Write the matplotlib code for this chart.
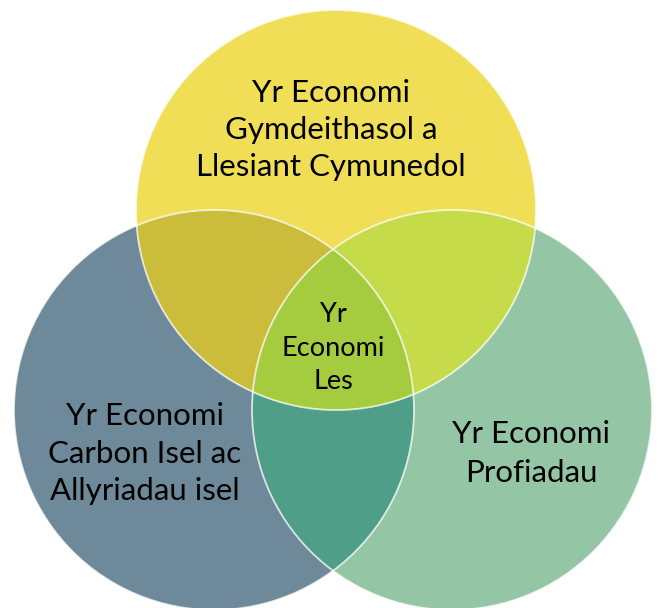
import matplotlib.pyplot as plt
import numpy as np
from matplotlib.patches import Circle, Polygon

# circles: name, centre (x, y in pixels, y down), radius
circle_names = ["top", "left", "right"]
centres = [(336, 210), (214, 410), (452, 410)]
radius = 200

single_colours = ["#F0DF56", "#6E8999", "#94C6A6"]
pair_colours = {
    ("top", "left"): "#CBBD3B",
    ("top", "right"): "#C6DB4A",
    ("left", "right"): "#4E9E88",
}
centre_colour = "#A5CB3E"

labels = [
    ["Yr Economi", "Gymdeithasol a", "Llesiant Cymunedol"],
    ["Yr Economi", "Carbon Isel ac", "Allyriadau isel"],
    ["Yr Economi", "Profiadau"],
]
label_x = [331, 145, 531]
label_baselines = [[102, 139, 176], [425, 463, 500], [443, 482]]
centre_label = ["Yr", "Economi", "Les"]
centre_baselines = [322, 356, 389]


def intersection(idx):
    # boundary of convex intersection of circles, sampled densely
    pts = []
    t = np.linspace(0, 2 * np.pi, 2000)
    for i in idx:
        cx, cy = centres[i]
        x = cx + radius * np.cos(t)
        y = cy + radius * np.sin(t)
        ok = np.ones_like(t, dtype=bool)
        for j in idx:
            if j == i:
                continue
            ox, oy = centres[j]
            ok &= (x - ox) ** 2 + (y - oy) ** 2 <= radius**2 + 1e-6
        pts.append(np.column_stack([x[ok], y[ok]]))
    pts = np.vstack(pts)
    m = pts.mean(axis=0)
    ang = np.arctan2(pts[:, 1] - m[1], pts[:, 0] - m[0])
    return pts[np.argsort(ang)]


fig = plt.figure(figsize=(6.6, 6.08), dpi=100)
ax = fig.add_axes([0, 0, 1, 1])
ax.set_xlim(0, 660)
ax.set_ylim(608, 0)
ax.axis("off")

for c, col in zip(centres, single_colours):
    ax.add_patch(Circle(c, radius, facecolor=col, edgecolor="none"))

for (a, b), col in pair_colours.items():
    poly = intersection([circle_names.index(a), circle_names.index(b)])
    ax.add_patch(Polygon(poly, closed=True, facecolor=col, edgecolor="none"))

ax.add_patch(Polygon(intersection([0, 1, 2]), closed=True,
                     facecolor=centre_colour, edgecolor="none"))

for c in centres:
    ax.add_patch(Circle(c, radius, facecolor="none", edgecolor="white",
                        lw=1.3, alpha=0.75))

font = "Lato"
for lines, x, ys in zip(labels, label_x, label_baselines):
    for s, y in zip(lines, ys):
        ax.text(x, y, s, ha="center", va="baseline", fontsize=22.5,
                family=font, color="black")

for s, y in zip(centre_label, centre_baselines):
    ax.text(333, y, s, ha="center", va="baseline", fontsize=19.5,
            family=font, color="black")

fig.savefig("out.png", dpi=100)
